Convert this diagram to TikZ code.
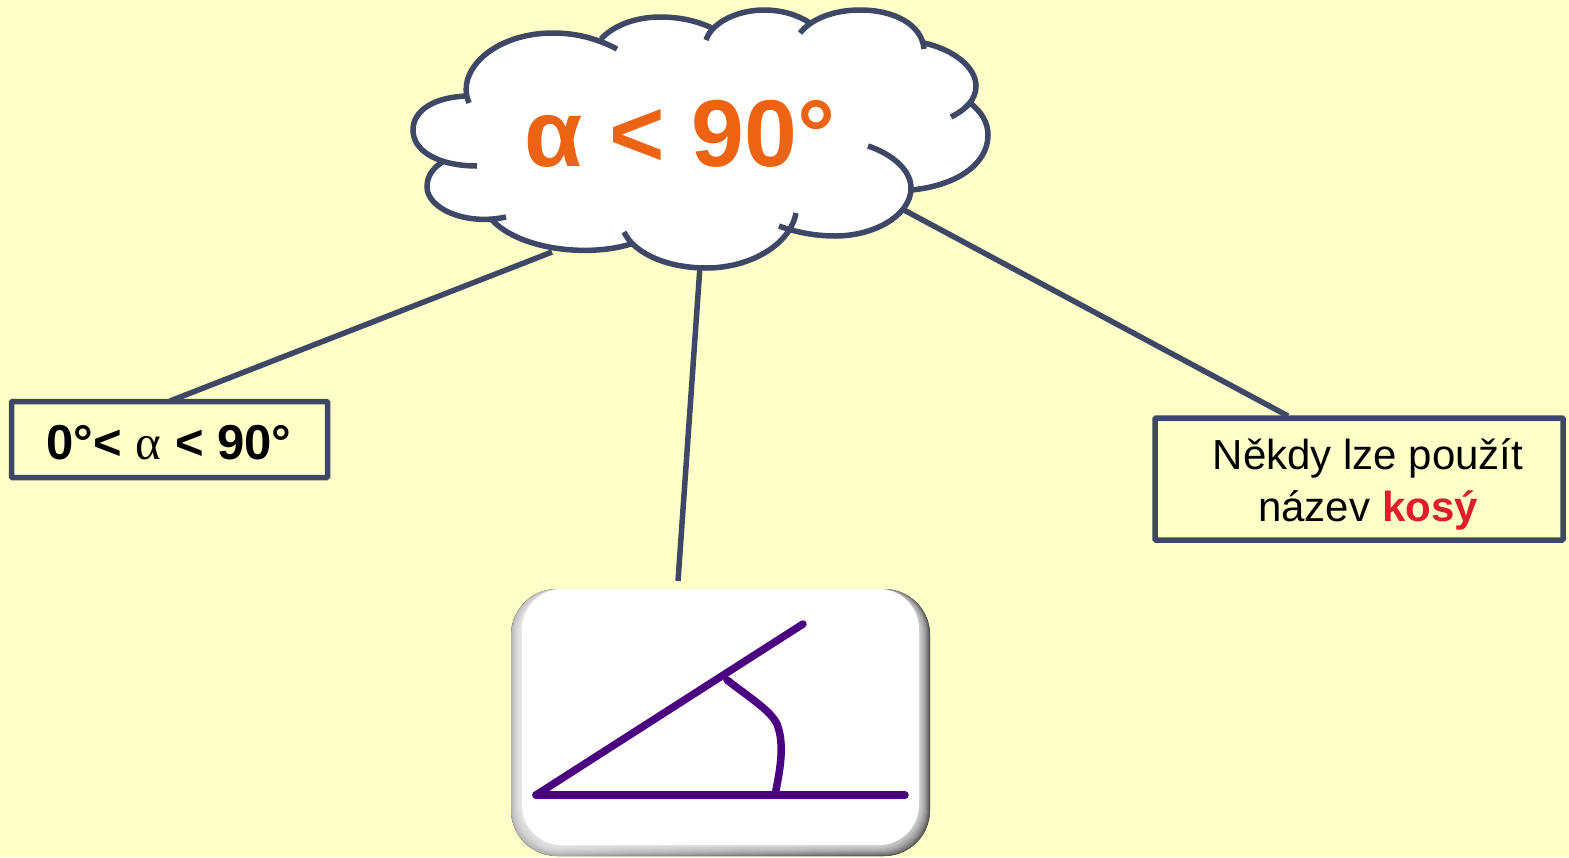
\documentclass[tikz,border=0pt]{standalone}
\usepackage{fontspec}
\setmainfont{Liberation Sans}
\newfontfamily\greekserif{Liberation Serif}
\definecolor{paleyellow}{RGB}{255,255,200}
\definecolor{slateline}{RGB}{62,72,102}
\definecolor{orangetext}{RGB}{236,99,20}
\definecolor{redword}{RGB}{222,30,44}
\definecolor{anglepurple}{RGB}{75,0,130}
\tikzset{
  cloudline/.style={draw=slateline, line width=5.5pt},
  linkline/.style={draw=slateline, line width=5.5pt},
  labelbox/.style={draw=slateline, line width=5.5pt, rounded corners=1pt, inner sep=0pt},
  angleline/.style={draw=anglepurple, line width=7.5pt, line cap=round, line join=round}
}
\newcommand{\cloudlobes}{
  (477,166) .. controls (440,166) and (413,152) .. (413,130) .. controls (413,110) and (435,97) .. (467,96)
  (506,217) .. controls (465,226) and (427,208) .. (427,187) .. controls (427,175) and (434,167) .. (444,161)
  (634,243) .. controls (590,258) and (520,250) .. (492,220)
  (796,213) .. controls (790,245) and (750,268) .. (706,268) .. controls (670,268) and (635,255) .. (624,232)
  (868,146) .. controls (892,154) and (911,170) .. (911,188) .. controls (911,215) and (875,236) .. (835,236) .. controls (815,236) and (795,232) .. (779,226)
  (969,102) .. controls (982,112) and (988,123) .. (988,135) .. controls (988,165) and (955,186) .. (911,190)
  (924,43) .. controls (955,50) and (976,68) .. (976,86) .. controls (976,100) and (965,110) .. (951,117)
  (800,33) .. controls (812,18) and (835,10) .. (860,10) .. controls (895,10) and (922,25) .. (924,49)
  (706,40) .. controls (712,22) and (738,10) .. (764,10) .. controls (782,10) and (798,15) .. (810,23)
  (601,39) .. controls (615,24) and (638,17) .. (660,17) .. controls (680,17) and (697,21) .. (712,28)
  (469,103) .. controls (455,70) and (495,33) .. (553,33) .. controls (577,33) and (598,39) .. (617,49)
}
\begin{document}
\begin{tikzpicture}[x=1pt,y=-1pt]
  \useasboundingbox[fill=paleyellow] (0,0) rectangle (1569,857);

  \coordinate (cloudleft) at (552,252);
  \coordinate (cloudmid) at (700,266);
  \coordinate (cloudright) at (904,210);
  \coordinate (rangetop) at (170,401);
  \coordinate (notetop) at (1288,416);
  \coordinate (picturetop) at (678,581);

  \draw[linkline] (cloudleft) to (rangetop);
  \draw[linkline] (cloudmid) to (picturetop);
  \draw[linkline] (cloudright) to (notetop);

  \fill[white] (469,103) -- (601,39) -- (712,28) -- (810,23) -- (924,49) -- (969,102) -- (988,135) -- (911,190) -- (835,236) -- (796,213) -- (706,268) -- (634,243) -- (580,250) -- (492,220) -- (444,161) -- cycle;
  \fill[white] \cloudlobes;
  \draw[cloudline] \cloudlobes;
  \node (cloudtext) at (680,134) {\fontsize{95}{95}\selectfont\bfseries\color{orangetext}α < 90°};

  \node[labelbox, minimum width=316pt, minimum height=76pt] (rangebox) at (169.5,439.5) {};
  \node (rangetext) at (169,443) {\fontsize{49}{49}\selectfont\bfseries 0°< {\greekserif\mdseries α} < 90°};

  \node[labelbox, minimum width=408pt, minimum height=122pt] (notebox) at (1359,479) {};
  \node[align=center, font=\fontsize{42}{52}\selectfont] (notetext) at (1368,484) {Někdy lze použít\\název {\bfseries\color{redword}kosý}};

  \fill[left color=black!30, middle color=black!55, right color=black!68, rounded corners=46pt] (511,589) rectangle (930,856);
  \foreach \i in {1,...,10}
    \fill[white, opacity=0.12, rounded corners=44pt] (511+\i,589) rectangle (930-\i,856-\i);
  \node[fill=white, rounded corners=40pt, inner sep=0pt, minimum width=397pt, minimum height=256pt] (picturebox) at (720.5,717) {};

  \coordinate (vertex) at (536,795);
  \coordinate (baseend) at (905,795);
  \coordinate (armend) at (803,624);
  \draw[angleline] (baseend) to (vertex);
  \draw[angleline] (vertex) to (armend);
  \draw[angleline] (727,680) .. controls (750,698) and (770,710) .. (777,724) .. controls (785,745) and (780,770) .. (775,795);
\end{tikzpicture}
\end{document}
